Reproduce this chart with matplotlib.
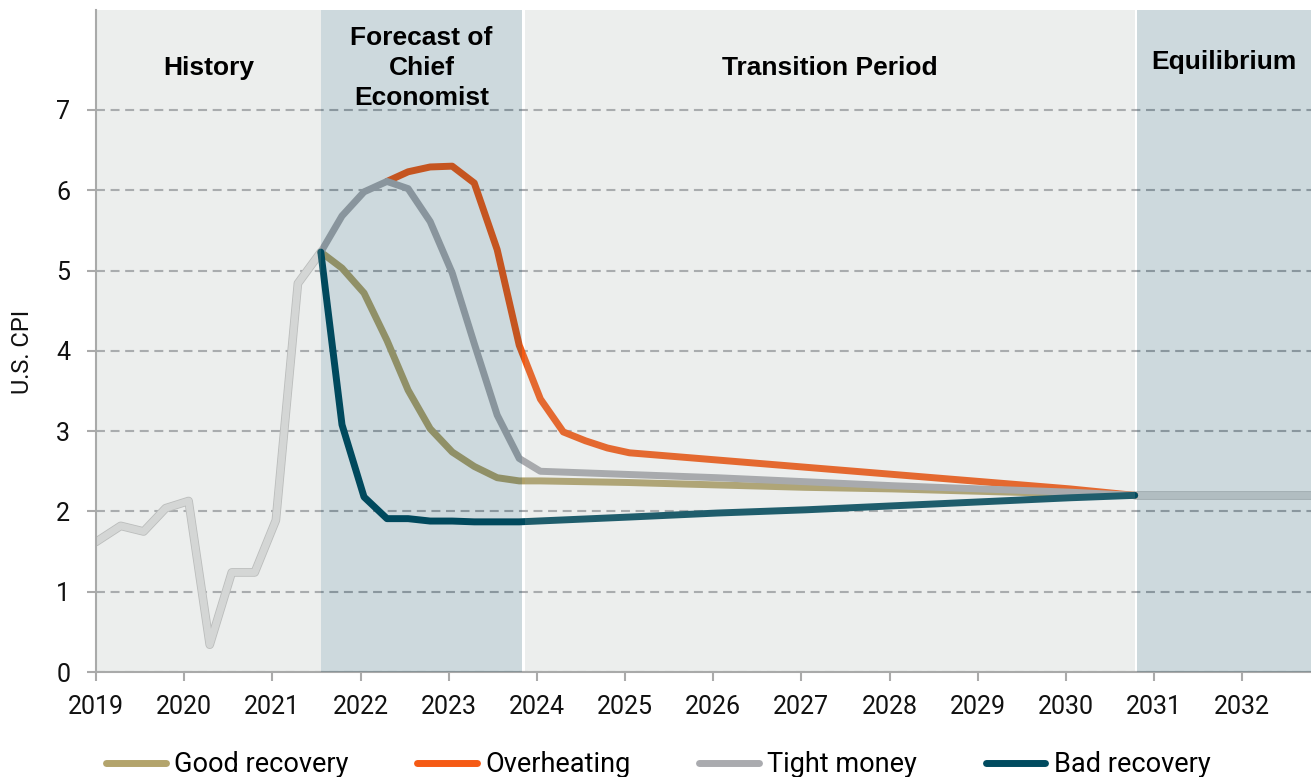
import matplotlib
matplotlib.use("Agg")
import matplotlib.pyplot as plt
import matplotlib.patheffects as pe
from matplotlib.lines import Line2D
from matplotlib import font_manager

# history (quarterly CPI)
hist_x = [2019.00, 2019.28, 2019.54, 2019.79, 2020.05, 2020.29, 2020.54, 2020.80, 2021.04, 2021.29, 2021.55]
hist_y = [1.62, 1.82, 1.75, 2.04, 2.13, 0.34, 1.24, 1.24, 1.89, 4.84, 5.23]

# scenarios
good_x = [2021.55, 2021.79, 2022.04, 2022.30, 2022.54, 2022.79, 2023.04, 2023.29, 2023.55, 2023.80,
          2024.04, 2025.04, 2026.04, 2027.04, 2028.04, 2029.04, 2030.04, 2030.78]
good_y = [5.23, 5.03, 4.72, 4.13, 3.51, 3.03, 2.74, 2.56, 2.42, 2.38,
          2.38, 2.36, 2.33, 2.30, 2.28, 2.25, 2.22, 2.20]

over_x = [2022.30, 2022.54, 2022.79, 2023.04, 2023.29, 2023.55, 2023.80, 2024.04, 2024.30, 2024.55,
          2024.80, 2025.05, 2026.05, 2027.05, 2028.05, 2029.05, 2030.05, 2030.78]
over_y = [6.11, 6.23, 6.29, 6.30, 6.09, 5.26, 4.07, 3.40, 2.99, 2.88,
          2.79, 2.73, 2.64, 2.55, 2.46, 2.37, 2.28, 2.20]

tight_x = [2021.55, 2021.79, 2022.04, 2022.30, 2022.54, 2022.79, 2023.04, 2023.29, 2023.55, 2023.80,
           2024.04, 2025.04, 2026.04, 2027.04, 2028.04, 2029.04, 2030.04, 2030.78]
tight_y = [5.23, 5.68, 5.98, 6.11, 6.02, 5.61, 4.97, 4.09, 3.20, 2.66,
           2.50, 2.46, 2.42, 2.37, 2.32, 2.28, 2.24, 2.20]

bad_x = [2021.55, 2021.79, 2022.04, 2022.30, 2022.54, 2022.79, 2023.04, 2023.29, 2023.55, 2023.80,
         2025.05, 2026.05, 2027.05, 2028.05, 2029.05, 2030.05, 2030.78]
bad_y = [5.23, 3.08, 2.18, 1.91, 1.91, 1.88, 1.88, 1.87, 1.87, 1.87,
         1.93, 1.98, 2.02, 2.07, 2.12, 2.17, 2.20]

eq_x = [2030.78, 2032.78]
eq_y = [2.20, 2.20]

series_names = ["Good recovery", "Overheating", "Tight money", "Bad recovery"]
series_colors = ["#b3a46c", "#f55a14", "#aaabaf", "#004b5f"]

region_names = ["History", "Forecast of\nChief\nEconomist", "Transition Period", "Equilibrium"]
region_edges = [(2019.0, 2021.55), (2021.55, 2023.835), (2023.865, 2030.78), (2030.81, 2032.78)]
region_dark = [False, True, False, True]
region_label_y = [7.52, 7.52, 7.52, 7.60]

years = list(range(2019, 2033))

available = {f.name for f in font_manager.fontManager.ttflist}

def pick(names):
    for n in names:
        if n in available:
            return n
    return "DejaVu Sans"

body_font = pick(["Roboto", "Liberation Sans"])
head_font = pick(["Liberation Sans", "Arimo", "Roboto"])
plt.rcParams["font.family"] = body_font

fig = plt.figure(figsize=(13.11, 7.77), dpi=100)
ax = fig.add_axes([96 / 1311, 105 / 777, 1215 / 1311, 662 / 777])
ax.set_facecolor("white")

lw = 5
kw = dict(lw=lw, solid_joinstyle="round", solid_capstyle="round", zorder=2)
outline = [pe.Stroke(linewidth=lw + 1.2, foreground="#c2c2c2"), pe.Normal()]

ax.plot(hist_x, hist_y, color="#e2e2e2", path_effects=outline, **kw)
ax.plot(eq_x, eq_y, color="#dcdcdc", path_effects=outline, **kw)
ax.plot(good_x, good_y, color=series_colors[0], **kw)
ax.plot(over_x, over_y, color=series_colors[1], **kw)
ax.plot(tight_x, tight_y, color=series_colors[2], **kw)
ax.plot(bad_x, bad_y, color=series_colors[3], **kw)

# shaded periods drawn over the lines
for (x0, x1), dark, name, ly in zip(region_edges, region_dark, region_names, region_label_y):
    if dark:
        ax.axvspan(x0, x1, color="#054155", alpha=0.2, lw=0, zorder=3)
    else:
        ax.axvspan(x0, x1, color="#a0aaa5", alpha=0.2, lw=0, zorder=3)
    ax.text((x0 + x1) / 2, ly, name, ha="center", va="center", fontsize=19,
            fontweight="bold", family=head_font, linespacing=1.33, zorder=5)

ax.set_xlim(2019, 2032.78)
ax.set_ylim(0, 8.245)
ax.set_xticks(years)
ax.set_xticklabels([str(y) for y in years])
ax.set_yticks(range(8))

ax.set_axisbelow(True)
ax.yaxis.grid(True, color="#acadb1", lw=1.5, linestyle=(0, (4.3, 2.7)))
for s in ["top", "right"]:
    ax.spines[s].set_visible(False)
for s in ["left", "bottom"]:
    ax.spines[s].set_color("#aaaaaa")
    ax.spines[s].set_linewidth(1.5)

ax.tick_params(axis="both", length=6.5, width=1.5, color="#aaaaaa", labelsize=18, labelcolor="#111111")
ax.tick_params(axis="y", pad=12)
ax.tick_params(axis="x", pad=10)

ax.set_ylabel("U.S. CPI", fontsize=17, color="#111111")
ax.yaxis.set_label_coords(-0.051, 0.483)

handles = [Line2D([], [], color=c, lw=5, solid_capstyle="round") for c in series_colors]
fig.legend(handles, series_names, loc="center", bbox_to_anchor=(0.502, 0.016), ncol=4,
           frameon=False, fontsize=19.5, handlelength=2.2, handletextpad=0.3,
           columnspacing=2.55, borderpad=0, borderaxespad=0)

fig.savefig("out.png", dpi=100)
